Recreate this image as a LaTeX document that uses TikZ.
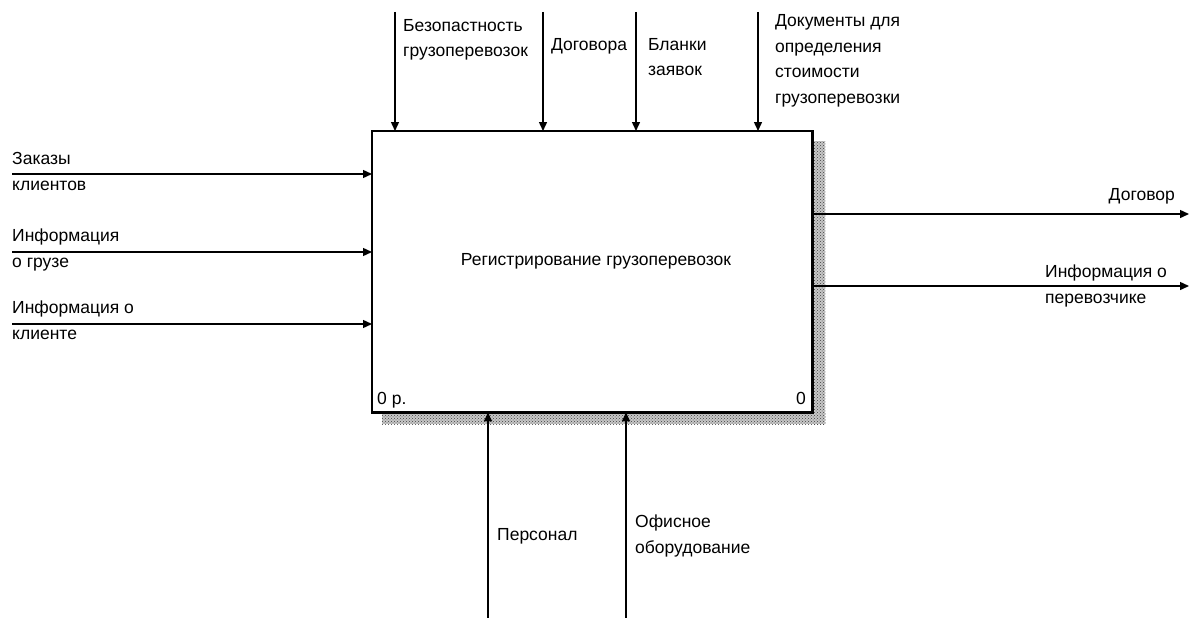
\documentclass[tikz,border=0pt]{standalone}
\usepackage{fontspec}
\setmainfont{Liberation Sans}
\usetikzlibrary{arrows.meta,calc,patterns}
\begin{document}
\begin{tikzpicture}[x=1pt,y=-1pt,
  lbl/.style={inner sep=0pt,anchor=base west,align=left,font=\fontsize{17.5}{25.5}\selectfont},
  arr/.style={line width=1.4pt,-{Triangle[length=9pt,width=8pt]}},
  shade/.style={fill=black!22,postaction={pattern=crosshatch dots,pattern color=black!75}}]
\useasboundingbox (0,0) rectangle (1189,618);
% box
\node[draw=none,minimum width=440pt,minimum height=281pt,anchor=north west,inner sep=0pt] (box) at (372,131) {};
\fill[shade] ($(box.north east)+(0,10)$) rectangle ($(box.south east)+(13,12)$);
\fill[shade] ($(box.south west)+(10,0)$) rectangle ($(box.south east)+(13,12)$);
\fill[white] (box.north west) rectangle (box.south east);
\draw[line width=2.8pt] (box.north west) rectangle (box.south east);
\node[lbl,anchor=base] (title) at (596,265) {Регистрирование грузоперевозок};
\node[lbl] (num1) at (377,404) {0 р.};
\node[lbl,anchor=base east] (num2) at (806,404) {0};
% controls (top)
\coordinate (c1) at (395,12);
\coordinate (c2) at (543,12);
\coordinate (c3) at (636,12);
\coordinate (c4) at (758,12);
\foreach \c in {c1,c2,c3,c4} \draw[arr] (\c) -- (\c |- box.north);
\node[lbl] (lc1) at (403,57) {Безопастность\\грузоперевозок};
\node[lbl] (lc2) at (551,51) {Договора};
\node[lbl] (lc3) at (648,76) {Бланки\\заявок};
\node[lbl] (lc4) at (775,103) {Документы для\\определения\\стоимости\\грузоперевозки};
% inputs (left)
\coordinate (i1) at (12,174);
\coordinate (i2) at (12,252);
\coordinate (i3) at (12,324);
\foreach \c in {i1,i2,i3} \draw[arr] (\c) -- (\c -| box.west);
\node[lbl] (li1) at (12,190) {Заказы\\клиентов};
\node[lbl] (li2) at (12,267) {Информация\\о грузе};
\node[lbl] (li3) at (12,339) {Информация о\\клиенте};
% outputs (right)
\coordinate (o1) at (1189,214);
\coordinate (o2) at (1189,286);
\draw[arr] (o1 -| box.east) -- (o1);
\draw[arr] (o2 -| box.east) -- (o2);
\node[lbl,anchor=base east] (lo1) at (1175,200) {Договор};
\node[lbl] (lo2) at (1045,303) {Информация о\\перевозчике};
% mechanisms (bottom)
\coordinate (m1) at (488,618);
\coordinate (m2) at (626,618);
\draw[arr] (m1) -- (m1 |- box.south);
\draw[arr] (m2) -- (m2 |- box.south);
\node[lbl] (lm1) at (497,540) {Персонал};
\node[lbl] (lm2) at (635,553) {Офисное\\оборудование};
\end{tikzpicture}
\end{document}
